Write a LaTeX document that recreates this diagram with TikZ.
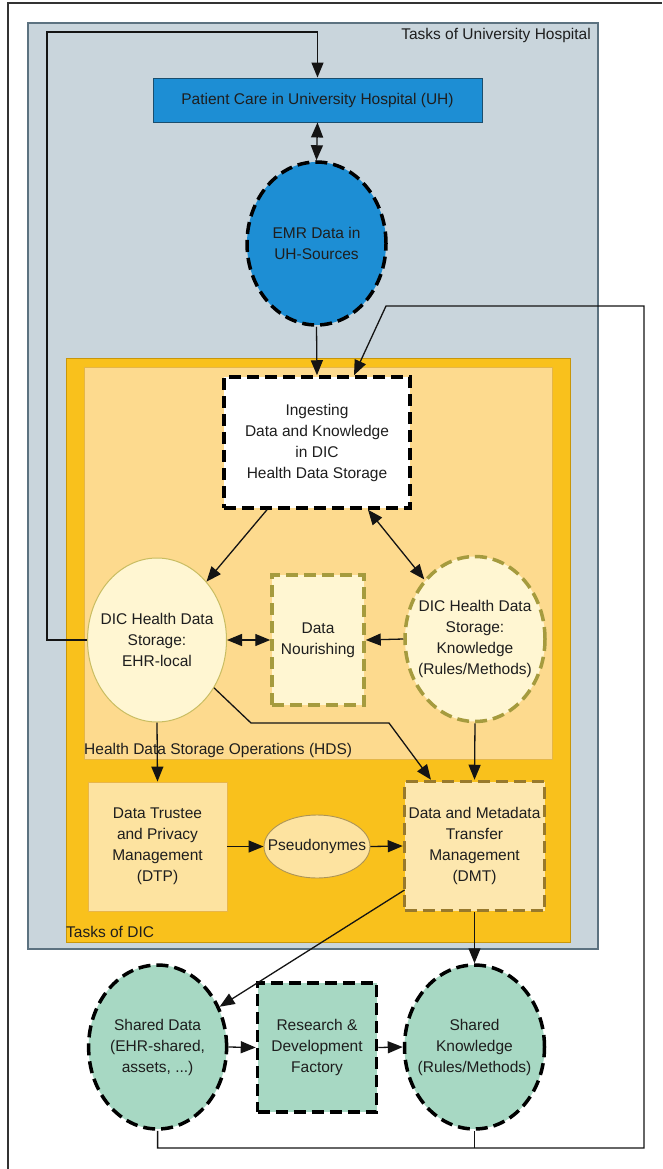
\documentclass[tikz,border=0pt]{standalone}
\usepackage{fontspec}
\setmainfont{Liberation Sans}
\usetikzlibrary{arrows.meta,shapes.geometric,calc}
\definecolor{uhbg}{HTML}{C9D5DC}
\definecolor{uhline}{HTML}{5C7280}
\definecolor{dicbg}{HTML}{F9C11C}
\definecolor{dicline}{HTML}{C8960A}
\definecolor{hdsbg}{HTML}{FDDA8E}
\definecolor{hdsline}{HTML}{E5B648}
\definecolor{bluefill}{HTML}{1D8ED4}
\definecolor{blueline}{HTML}{1A4E6E}
\definecolor{creamfill}{HTML}{FFF6D2}
\definecolor{creamline}{HTML}{C9BD62}
\definecolor{olive}{HTML}{A59B3E}
\definecolor{paleorange}{HTML}{FDE3A0}
\definecolor{paleline}{HTML}{E9B64A}
\definecolor{brownline}{HTML}{98792C}
\definecolor{greenfill}{HTML}{A7D8C3}
\definecolor{linec}{HTML}{141414}
\definecolor{txtc}{HTML}{1E1E1E}
\tikzset{
  container/.style={rectangle, inner sep=0pt},
  thickdash/.style={line width=3.5pt, dash pattern=on 12pt off 6pt},
  boxnode/.style={rectangle, inner sep=0pt, align=center, text=txtc},
  ellnode/.style={ellipse, inner sep=0pt},
  txt/.style={align=center, text=txtc, inner sep=0pt},
  tip/.style={Triangle[length=15pt,width=12pt]},
  arr/.style={draw=linec, line width=1.3pt, -{Triangle[length=15pt,width=12pt]}},
  darr/.style={draw=linec, line width=1.3pt, {Triangle[length=15pt,width=12pt]}-{Triangle[length=15pt,width=12pt]}},
  plain/.style={draw=linec, line width=1.3pt},
  lbl/.style={inner sep=0pt, text=txtc}
}
\begin{document}
\begin{tikzpicture}[x=1pt,y=-1pt, font=\fontsize{15.5}{21}\selectfont]
\useasboundingbox (0,0) rectangle (662,1169);
\fill[white] (0,0) rectangle (662,1169);
% outer frame
\draw[line width=1.2pt, draw=black!80] (8,1169) -- (8,3) -- (662,3);

% containers
\node[container, fill=uhbg, draw=uhline, line width=1.3pt, minimum width=570pt, minimum height=926pt] (uh) at (313,486) {};
\node[lbl, anchor=east] (uhlabel) at (591,35) {Tasks of University Hospital};
\node[container, fill=dicbg, draw=dicline, line width=0.9pt, minimum width=504pt, minimum height=584pt] (dic) at (318,650) {};
\node[lbl, anchor=west] (diclabel) at (66,932) {Tasks of DIC};
\node[container, fill=hdsbg, draw=hdsline, line width=0.8pt, minimum width=468pt, minimum height=392pt] (hds) at (318,563) {};
\node[lbl, anchor=west] (hdslabel) at (84,750) {Health Data Storage Operations (HDS)};

% nodes
\node[boxnode, fill=bluefill, draw=blueline, line width=0.9pt, minimum width=329pt, minimum height=44pt] (pc) at (317.5,100) {Patient Care in University Hospital (UH)};
\node[ellnode, fill=bluefill, draw=black, thickdash, minimum width=139pt, minimum height=163pt,
  label={[txt]center:EMR Data in\\UH-Sources}] (emr) at (316.5,243.5) {};
\node[boxnode, fill=white, draw=black, thickdash, minimum width=186pt, minimum height=131pt] (ing) at (317,442.5) {Ingesting\\Data and Knowledge\\in DIC\\Health Data Storage};
\node[ellnode, fill=creamfill, draw=creamline, line width=1pt, minimum width=139pt, minimum height=164pt,
  label={[txt]center:DIC Health Data\\Storage:\\EHR-local}] (ehr) at (157,640) {};
\node[boxnode, fill=creamfill, draw=olive, thickdash, minimum width=92pt, minimum height=130pt] (nour) at (318,640) {Data\\Nourishing};
\node[ellnode, fill=creamfill, draw=olive, thickdash, minimum width=140pt, minimum height=165pt,
  label={[txt]center:DIC Health Data\\Storage:\\Knowledge\\(Rules/Methods)}] (know) at (475,639) {};
\node[boxnode, fill=paleorange, draw=paleline, line width=0.9pt, minimum width=139pt, minimum height=129pt] (dtp) at (157.5,846.5) {Data Trustee\\and Privacy\\Management\\(DTP)};
\node[ellnode, fill=paleorange, draw=brownline!80, line width=0.9pt, minimum width=106pt, minimum height=63pt,
  label={[txt]center:Pseudonymes}] (pseu) at (317,846.5) {};
\node[boxnode, fill=paleorange!85!white, draw=brownline, thickdash, minimum width=140pt, minimum height=129pt] (dmt) at (474.5,846) {Data and Metadata\\Transfer\\Management\\(DMT)};
\node[ellnode, fill=greenfill, draw=black, thickdash, minimum width=138pt, minimum height=164pt,
  label={[txt]center:Shared Data\\(EHR-shared,\\assets, ...)}] (sd) at (157.6,1047) {};
\node[boxnode, fill=greenfill, draw=black, thickdash, minimum width=119pt, minimum height=129pt] (rd) at (317,1047.5) {Research \&\\Development\\Factory};
\node[ellnode, fill=greenfill, draw=black, thickdash, minimum width=140pt, minimum height=164pt,
  label={[txt]center:Shared\\Knowledge\\(Rules/Methods)}] (sk) at (474.5,1047) {};

% helper coordinates
\coordinate (loopA) at (47,640);
\coordinate (loopB) at (47,32);
\coordinate (fbA) at (157.6,1148);
\coordinate (fbB) at (644,1148);
\coordinate (fbC) at (644,306);
\coordinate (fbD) at (386,306);
\coordinate (eA) at (251,723);
\coordinate (eB) at (389,723);
\coordinate (dmtOut) at (404.5,890);

% connectors
\draw[darr] (pc.south) -- (emr.north);
\draw[arr] (ehr.west) -- (loopA) -- (loopB) -| (pc.north);
\draw[arr] (emr.south) -- (ing.north);
\draw[arr] (sd.south) -- (fbA) -- (fbB) -- (fbC) -- (fbD) -- ([xshift=37pt]ing.north);
\draw[plain] (sk.south) -- (sk.south |- fbA);
\draw[arr] ([xshift=-50pt]ing.south) -- (ehr.north east);
\draw[darr] ([xshift=51pt]ing.south) -- (know.north west);
\draw[darr] (ehr.east) -- (nour.west);
\draw[arr] (know.west) -- (nour.east);
\draw[arr] (ehr.south) -- (dtp.north);
\draw[arr] (ehr.-40) -- (eA) -- (eB) -- ([xshift=-43.5pt]dmt.north);
\draw[arr] (know.south) -- (dmt.north);
\draw[arr] (dtp.east) -- (pseu.west);
\draw[arr] (pseu.east) -- (dmt.west);
\draw[arr] (dmtOut) -- (sd.33);
\draw[arr] (dmt.south) -- (sk.north);
\draw[arr] (sd.east) -- (rd.west);
\draw[arr] (rd.east) -- (sk.west);
\end{tikzpicture}
\end{document}
